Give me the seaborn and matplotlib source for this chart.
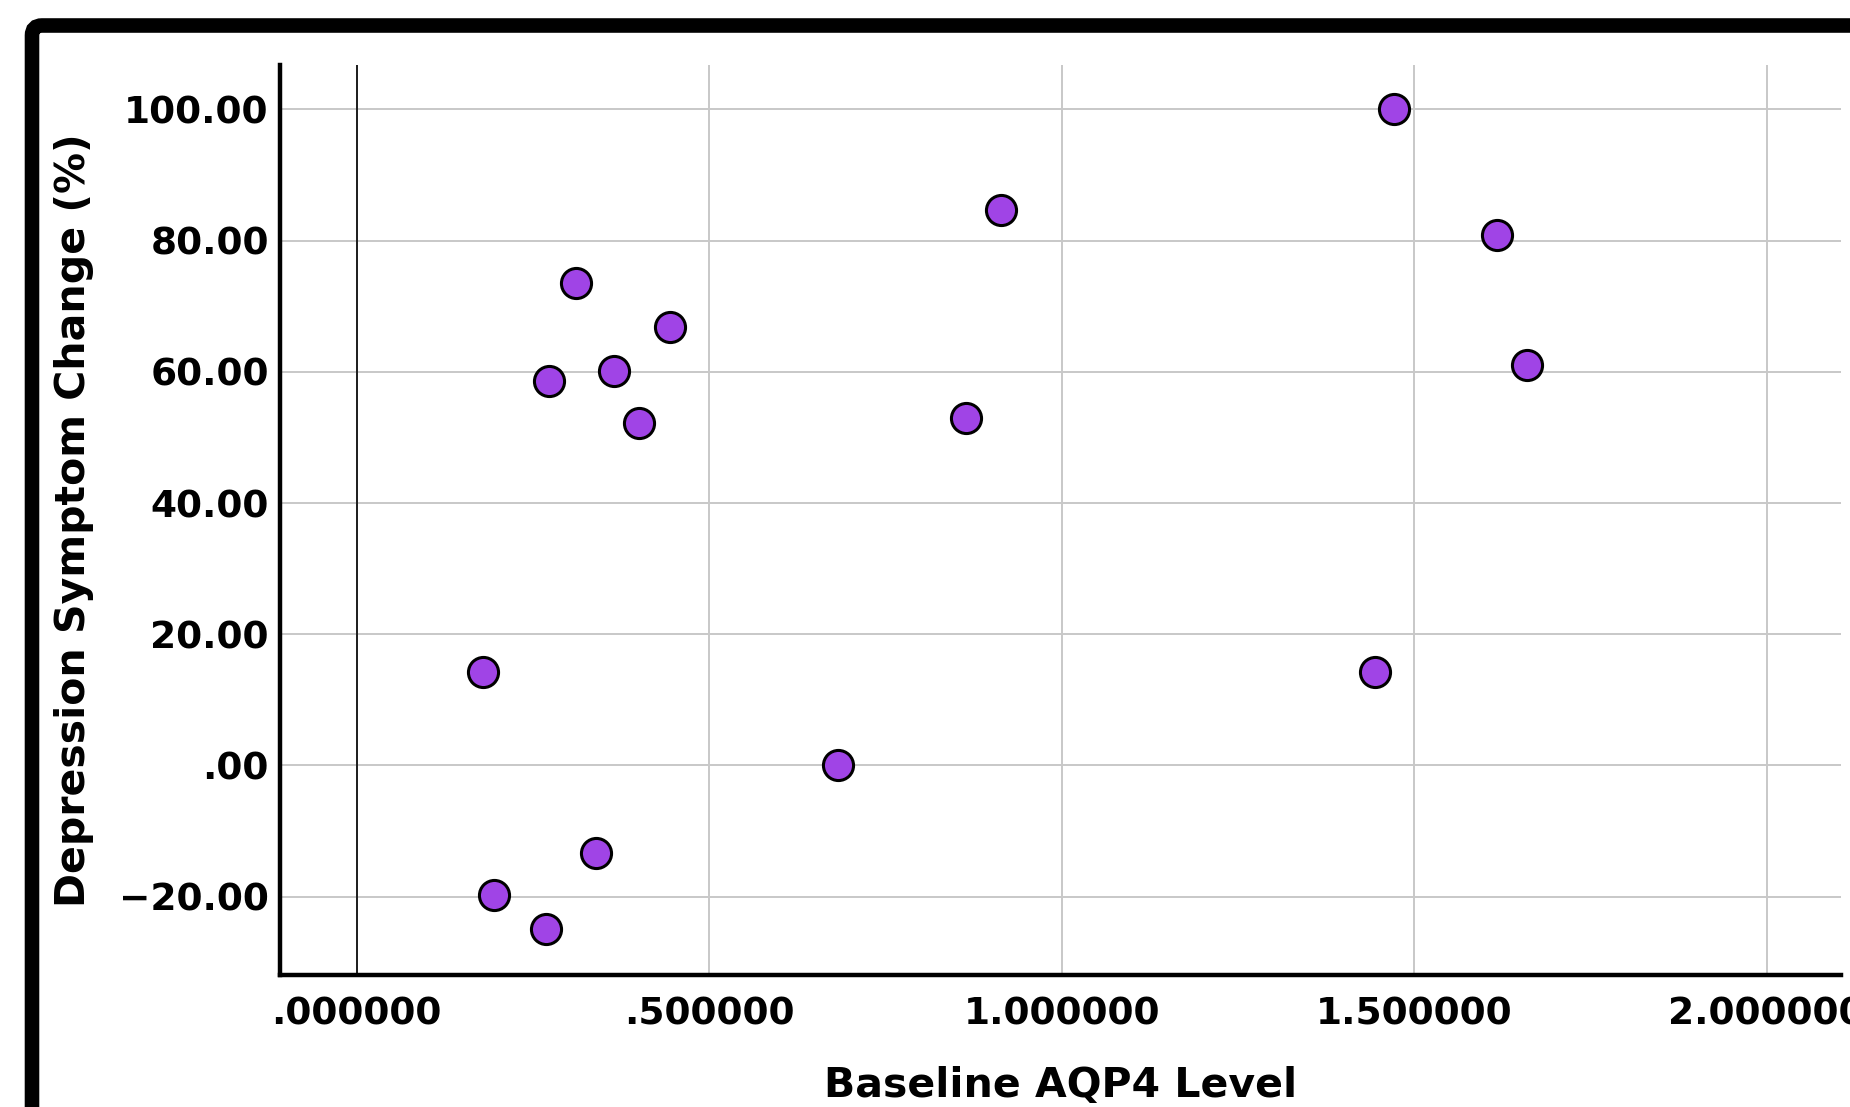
#!/usr/bin/env python3
"""
Scatter plot: baseline AQP4 level vs. depression symptom change (%).
SPSS-style look: thick frame, bold labels, gray grid, purple markers.
"""

import matplotlib
matplotlib.use("Agg")
import matplotlib.pyplot as plt
import matplotlib.transforms as mtransforms
from matplotlib.patches import FancyBboxPatch
import pandas as pd
import seaborn as sns

# === Data ===
aqp4_level = [1.471, 0.914, 1.617, 0.311, 0.444, 0.365, 0.273, 1.660,
              0.400, 0.864, 0.179, 1.444, 0.683, 0.340, 0.194, 0.268]
symptom_change = [100.0, 84.7, 80.9, 73.5, 66.8, 60.2, 58.6, 61.1,
                  52.2, 52.9, 14.3, 14.3, 0.0, -13.3, -19.8, -24.9]

x_ticks = [0.0, 0.5, 1.0, 1.5, 2.0]
x_tick_labels = [".000000", ".500000", "1.000000", "1.500000", "2.000000"]
y_ticks = [-20, 0, 20, 40, 60, 80, 100]
y_tick_labels = ["\u221220.00", ".00", "20.00", "40.00", "60.00", "80.00", "100.00"]

x_label = "Baseline AQP4 Level"
y_label = "Depression Symptom Change (%)"


def main():
    sns.set_theme(style="whitegrid")
    plt.rcParams["font.family"] = ["DejaVu Sans"]

    df = pd.DataFrame({"AQP4": aqp4_level, "Change": symptom_change})

    fig = plt.figure(figsize=(18.5, 11.07), dpi=100)
    fig.patch.set_facecolor("white")
    ax = fig.add_axes([0.1513, 0.1196, 0.8437, 0.8218])
    ax.set_facecolor("white")

    # grid
    ax.set_axisbelow(True)
    ax.grid(True, color="#c8c8c8", linewidth=1.4)
    ax.axvline(0, color="black", linewidth=1.2, zorder=1)

    sns.scatterplot(
        data=df, x="AQP4", y="Change", ax=ax,
        color="#A044E6", edgecolor="black", linewidth=2.2,
        s=470, zorder=3, legend=False,
    )

    ax.set_xlim(-0.109, 2.105)
    ax.set_ylim(-31.9, 106.8)
    ax.set_xticks(x_ticks)
    ax.set_xticklabels(x_tick_labels)
    ax.set_yticks(y_ticks)
    ax.set_yticklabels(y_tick_labels)

    for lab in ax.get_xticklabels() + ax.get_yticklabels():
        lab.set_fontweight("bold")
        lab.set_fontsize(27)
        lab.set_color("black")
    ax.tick_params(axis="x", length=0, pad=16)
    ax.tick_params(axis="y", length=0, pad=8)

    ax.set_xlabel(x_label, fontsize=29.5, fontweight="bold", labelpad=24, color="black")
    ax.set_ylabel(y_label, fontsize=29.5, fontweight="bold", labelpad=18, color="black")

    for side in ["top", "right"]:
        ax.spines[side].set_visible(False)
    for side in ["left", "bottom"]:
        ax.spines[side].set_visible(True)
        ax.spines[side].set_color("black")
        ax.spines[side].set_linewidth(3.2)

    # outer frame (runs off the right and bottom edges)
    frame = FancyBboxPatch(
        (32, -60), 1900, 1107 - 25.5 + 60,
        boxstyle="round,pad=0,rounding_size=10",
        transform=mtransforms.IdentityTransform(),
        facecolor="none", edgecolor="black", linewidth=10.5,
        clip_on=False,
    )
    fig.patches.append(frame)

    fig.savefig("out.png", dpi=100)
    plt.close(fig)


if __name__ == "__main__":
    main()
